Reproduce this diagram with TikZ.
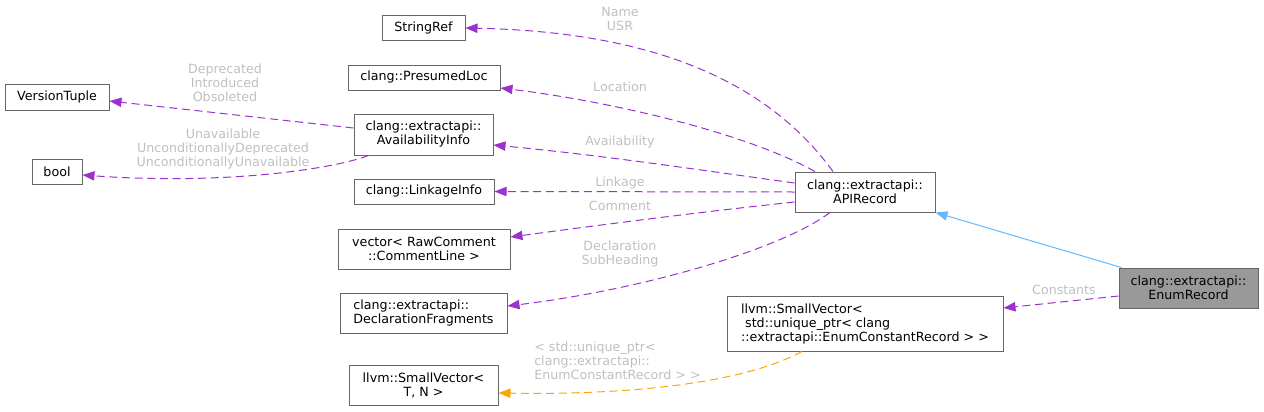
\documentclass[tikz,border=0pt]{standalone}
\usepackage{fontspec}
\setmainfont{DejaVu Sans}
\usetikzlibrary{arrows.meta,calc}
\definecolor{edgepurple}{HTML}{9A32CD}
\definecolor{edgeorange}{HTML}{FFA500}
\definecolor{edgeblue}{HTML}{63B8FF}
\definecolor{boxborder}{HTML}{666666}
\definecolor{labelgray}{HTML}{BFBFBF}
\definecolor{curfill}{HTML}{999999}
\begin{document}
\begin{tikzpicture}[x=0.75pt,y=-0.75pt,
  font=\fontsize{9.5}{10.5}\selectfont,
  box/.style={draw=boxborder,line width=0.75pt,fill=white,inner sep=0pt,align=center,text=black},
  leftbox/.style={box,align=left},
  tip/.style={-{Triangle[length=9pt,width=7pt]}},
  uses/.style={draw=edgepurple,line width=0.75pt,dash pattern=on 6pt off 3.5pt,tip,fill=none},
  tmpl/.style={draw=edgeorange,line width=0.75pt,dash pattern=on 6pt off 3.5pt,tip,fill=none},
  inherit/.style={draw=edgeblue,line width=0.75pt,tip},
  elabel/.style={text=labelgray,inner sep=0pt,align=center}
]
\useasboundingbox (0,0) rectangle (1264,411);

% nodes
\node[box,minimum width=83*0.75pt,minimum height=25*0.75pt] (stringref) at (423.5,28) {StringRef};
\node[box,minimum width=152*0.75pt,minimum height=25*0.75pt] (presumed) at (424,77.5) {clang::PresumedLoc};
\node[box,minimum width=104*0.75pt,minimum height=26*0.75pt] (version) at (57,97) {VersionTuple};
\node[box,minimum width=139*0.75pt,minimum height=41*0.75pt] (avail) at (423.5,134.5) {clang::extractapi::\\AvailabilityInfo};
\node[box,minimum width=50*0.75pt,minimum height=25*0.75pt] (bool) at (57,171.5) {bool};
\node[box,minimum width=140*0.75pt,minimum height=25*0.75pt] (linkage) at (424,191.5) {clang::LinkageInfo};
\node[box,minimum width=172*0.75pt,minimum height=40*0.75pt] (vector) at (424,249) {vector< RawComment\\::CommentLine >};
\node[leftbox,minimum width=167*0.75pt,minimum height=40*0.75pt] (declfrag) at (423.5,313) {clang::extractapi::\\DeclarationFragments};
\node[box,minimum width=149*0.75pt,minimum height=40*0.75pt] (smalltn) at (423.5,385) {llvm::SmallVector<\\T, N >};
\node[box,minimum width=140*0.75pt,minimum height=40*0.75pt] (api) at (865,192) {clang::extractapi::\\APIRecord};
\node[box,fill=curfill,minimum width=139*0.75pt,minimum height=40*0.75pt] (enum) at (1188.5,288) {clang::extractapi::\\EnumRecord};
\node[leftbox,minimum width=276*0.75pt,minimum height=55*0.75pt] (bigsv) at (865,323.5) {llvm::SmallVector<\\\ std::unique\_ptr< clang\\::extractapi::EnumConstantRecord > >};

% edges
\draw[uses] ($(api.north)+(-32,0)$) .. controls (770,85) and (660,32) .. (stringref.east);
\draw[uses] ($(api.north)+(-50,0)$) .. controls (740,130) and (600,100) .. ($(presumed.east)+(0,10.5)$);
\draw[uses] ($(api.west)+(0,-9)$) .. controls (700,170) and (600,155) .. ($(avail.east)+(0,10.5)$);
\draw[uses] (api.west) -- (linkage.east);
\draw[uses] ($(api.west)+(0,10)$) .. controls (700,212) and (600,225) .. ($(vector.east)+(0,-12)$);
\draw[uses] ($(api.south)+(-35,0)$) .. controls (780,250) and (640,290) .. ($(declfrag.east)+(0,-7)$);
\draw[inherit] ($(enum.north west)+(3,0)$) -- (api.south east);
\draw[uses] ($(enum.west)+(0,8)$) -- ($(bigsv.east)+(0,-15.5)$);
\draw[tmpl] ($(bigsv.south)+(-63,0)$) .. controls (740,385) and (620,395) .. ($(smalltn.east)+(0,8)$);
\draw[uses] ($(avail.west)+(0,-6.5)$) -- ($(version.east)+(0,4)$);
\draw[uses] ($(avail.south)+(-55,0)$) .. controls (330,170) and (220,185) .. ($(bool.east)+(0,3.5)$);

% edge labels
\node[elabel] (lname) at (620,19) {Name\\USR};
\node[elabel] (lloc) at (620,87) {Location};
\node[elabel] (lavail) at (620,142) {Availability};
\node[elabel] (llink) at (620,183) {Linkage};
\node[elabel] (lcomm) at (620,206) {Comment};
\node[elabel] (ldecl) at (620,254) {Declaration\\SubHeading};
\node[elabel] (lconst) at (1064,290) {Constants};
\node[elabel] (lver) at (225,83) {Deprecated\\Introduced\\Obsoleted};
\node[elabel] (lbool) at (223,149) {Unavailable\\UnconditionallyDeprecated\\UnconditionallyUnavailable};
\node[elabel,align=left,anchor=west] (ltmpl) at (534,361) {< std::unique\_ptr<\\clang::extractapi::\\EnumConstantRecord > >};
\end{tikzpicture}
\end{document}
